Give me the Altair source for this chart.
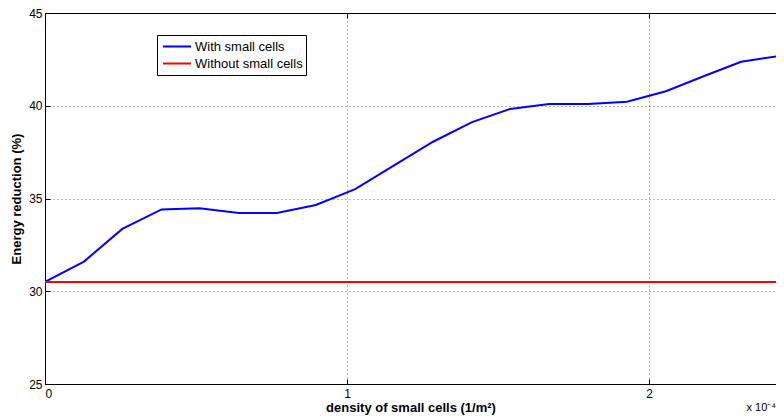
import altair as alt
import pandas as pd

# ---- data ----
density = [0, 0.129, 0.256, 0.386, 0.511, 0.642, 0.768, 0.897, 1.027, 1.156, 1.285,
           1.414, 1.540, 1.669, 1.798, 1.927, 2.056, 2.185, 2.305, 2.434, 2.563]
with_small = [30.5, 31.6, 33.36, 34.41, 34.47, 34.22, 34.22, 34.65, 35.5, 36.79, 38.06,
              39.12, 39.83, 40.1, 40.1, 40.22, 40.78, 41.62, 42.37, 42.69, 42.85]
without_small = [30.5, 30.5, 30.5, 30.5, 30.5, 30.5, 30.5, 30.5, 30.5, 30.5, 30.5,
                 30.5, 30.5, 30.5, 30.5, 30.5, 30.5, 30.5, 30.5, 30.5, 30.5]
series_names = ["With small cells", "Without small cells"]
series_colors = ["#0000ff", "#ff0000"]
x_ticks = [0, 1, 2]
y_ticks = [25, 30, 35, 40, 45]
x_domain = [0, 2.4205]
y_domain = [25, 45]
exponent_label = ["x 10\u207b\u2074"]

rows = []
for d, a, b in zip(density, with_small, without_small):
    rows.append({"density": d, "value": a, "series": series_names[0]})
    rows.append({"density": d, "value": b, "series": series_names[1]})
df = pd.DataFrame(rows)

W, H = 731, 371
FONT = "Liberation Sans"

xs = alt.Scale(domain=x_domain, nice=False, zero=False)
ys = alt.Scale(domain=y_domain, nice=False, zero=False)

base = alt.Chart(df)

lines = base.mark_line(strokeWidth=2, clip=True).encode(
    x=alt.X("density:Q", scale=xs, axis=alt.Axis(
        orient="bottom", values=x_ticks, format="d",
        title="density of small cells (1/m\u00b2)",
        titleFontSize=13, titleFontWeight="bold", titleColor="black", titlePadding=2,
        labelFontSize=12, labelColor="black", labelPadding=4,
        ticks=False, domain=True, domainColor="black", domainWidth=1,
        grid=True, gridDash=[1, 3], gridColor="#777777", gridWidth=1, gridOpacity=1)),
    y=alt.Y("value:Q", scale=ys, axis=alt.Axis(
        orient="left", values=y_ticks, format="d",
        title="Energy reduction (%)",
        titleFontSize=13, titleFontWeight="bold", titleColor="black", titlePadding=5,
        labelFontSize=12, labelColor="black", labelPadding=3,
        ticks=False, domain=True, domainColor="black", domainWidth=1,
        grid=True, gridDash=[1, 3], gridColor="#777777", gridWidth=1, gridOpacity=1)),
    color=alt.Color("series:N", scale=alt.Scale(domain=series_names, range=series_colors),
                    legend=alt.Legend(
                        orient="none", legendX=112, legendY=22, title=None,
                        symbolType="stroke", symbolSize=784, symbolStrokeWidth=2,
                        clipHeight=17, rowPadding=0, padding=3, symbolOffset=2,
                        labelOffset=3, labelFontSize=13, labelFont=FONT, labelColor="black",
                        strokeColor="black", fillColor="white", cornerRadius=0)),
)

inner_ticks = base.mark_line(strokeOpacity=0).encode(
    x=alt.X("density:Q", scale=xs, axis=alt.Axis(
        orient="top", offset=-H, values=x_ticks, labels=False, domain=False,
        grid=False, ticks=True, tickSize=5, tickColor="black", tickWidth=1, title=None)),
    y=alt.Y("value:Q", scale=ys, axis=alt.Axis(
        orient="right", offset=-W, values=y_ticks, labels=False, domain=False,
        grid=False, ticks=True, tickSize=5, tickColor="black", tickWidth=1, title=None)),
)

top_border = base.mark_line(strokeOpacity=0).encode(
    x=alt.X("density:Q", scale=xs, axis=alt.Axis(
        orient="bottom", offset=-H, values=x_ticks, labels=False, domain=True,
        domainColor="black", domainWidth=1,
        grid=False, ticks=True, tickSize=5, tickColor="black", tickWidth=1, title=None)),
    y=alt.Y("value:Q", scale=ys, axis=None),
)

exp_text = alt.Chart(pd.DataFrame({"t": exponent_label})).mark_text(
    align="right", baseline="middle", fontSize=11, font=FONT, color="black"
).encode(x=alt.value(W), y=alt.value(395), text="t:N")

chart = alt.layer(lines, inner_ticks, top_border, exp_text).resolve_axis(
    x="independent", y="independent"
).properties(
    width=W, height=H,
    autosize=alt.AutoSizeParams(type="none"),
    padding={"left": 37, "top": 5, "right": 0, "bottom": 34},
).configure(font=FONT).configure_view(stroke=None)

chart.save("out.html", embed_options={"renderer": "svg", "actions": False})
